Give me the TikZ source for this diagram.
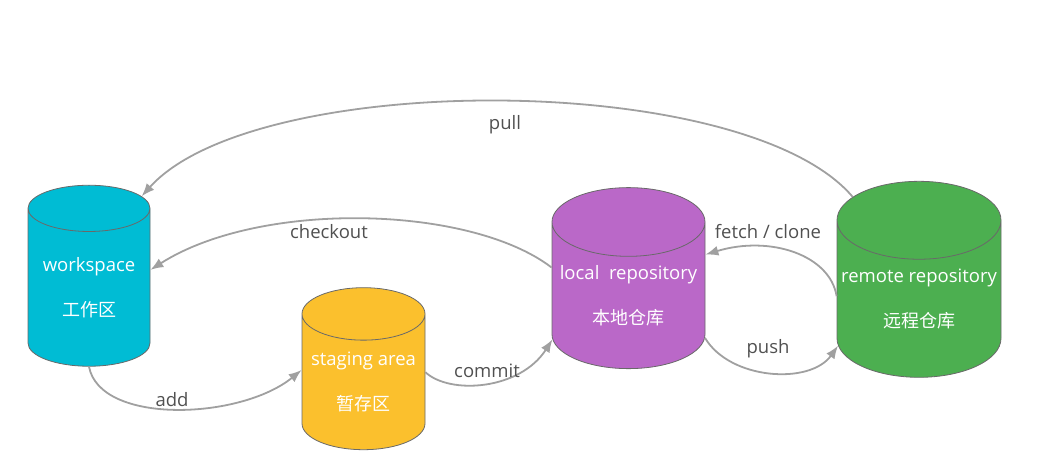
\documentclass[tikz,border=0pt]{standalone}
\usepackage{fontspec}
\setmainfont{Open Sans}
\newfontfamily\cjk{Noto Sans CJK SC}
\usepackage{tikz}
\usetikzlibrary{shapes.geometric, arrows.meta}
\definecolor{wscyan}{RGB}{0,188,212}
\definecolor{stgold}{RGB}{251,192,45}
\definecolor{lrpurple}{RGB}{186,104,200}
\definecolor{rrgreen}{RGB}{76,175,80}
\definecolor{rimgray}{RGB}{105,105,105}
\definecolor{flowgray}{RGB}{160,160,160}
\definecolor{labgray}{RGB}{80,80,80}

\begin{document}
\begin{tikzpicture}[x=1pt,y=-1pt]
  \tikzset{repo/.style={cylinder,shape border rotate=90,draw=rimgray,line width=0.8pt,
      aspect=0.5,text=white,align=center,inner sep=0pt,
      font=\fontsize{18.5}{18.5}\selectfont},
    flow/.style={draw=flowgray,line width=1.8pt,-{Latex[length=13pt,width=10pt]}},
    lab/.style={text=labgray,font=\fontsize{18.5}{18.5}\selectfont}}
  \useasboundingbox (0,0) rectangle (1037,476);
  \node[repo,fill=wscyan,minimum width=122,minimum height=181](ws) at (89,287.5)
  {workspace\\[24pt]{\cjk\fontsize{18}{18}\selectfont 工作区}};
  \node[repo,fill=stgold,minimum width=123,minimum height=162](st) at (363.5,382)
  {staging area\\[24pt]{\cjk\fontsize{18}{18}\selectfont 暂存区}};
  \node[repo,fill=lrpurple,minimum width=153,minimum height=181](lr) at (628.5,295.5)
  {local\ \ repository\\[24pt]{\cjk\fontsize{18}{18}\selectfont 本地仓库}};
  \node[repo,fill=rrgreen,minimum width=164,minimum height=196](rr) at (919,299)
  {remote repository\\[24pt]{\cjk\fontsize{18}{18}\selectfont 远程仓库}};
  \draw[flow] (rr.123) .. controls (745,70) and (255,70) .. (ws.60);
  \draw[flow] (lr.160) .. controls (470,205) and (260,200) .. (ws.16);
  \draw[flow] (ws.south) .. controls (100,425) and (240,420) .. (st.169);
  \draw[flow] (st.9) .. controls (450,395) and (520,390) .. (lr.210);
  \draw[flow] (rr.178) .. controls (830,255) and (770,235) .. (lr.28);
  \draw[flow] (lr.331) .. controls (730,380) and (810,385) .. (rr.210);
  \node[lab](pull) at (505,125) {pull};
  \node[lab](checkout) at (329,232) {checkout};
  \node[lab](add) at (172,400) {add};
  \node[lab](commit) at (487,371) {commit};
  \node[lab](fetch) at (768,232) {fetch / clone};
  \node[lab](push) at (768,349) {push};
\end{tikzpicture}
\end{document}
